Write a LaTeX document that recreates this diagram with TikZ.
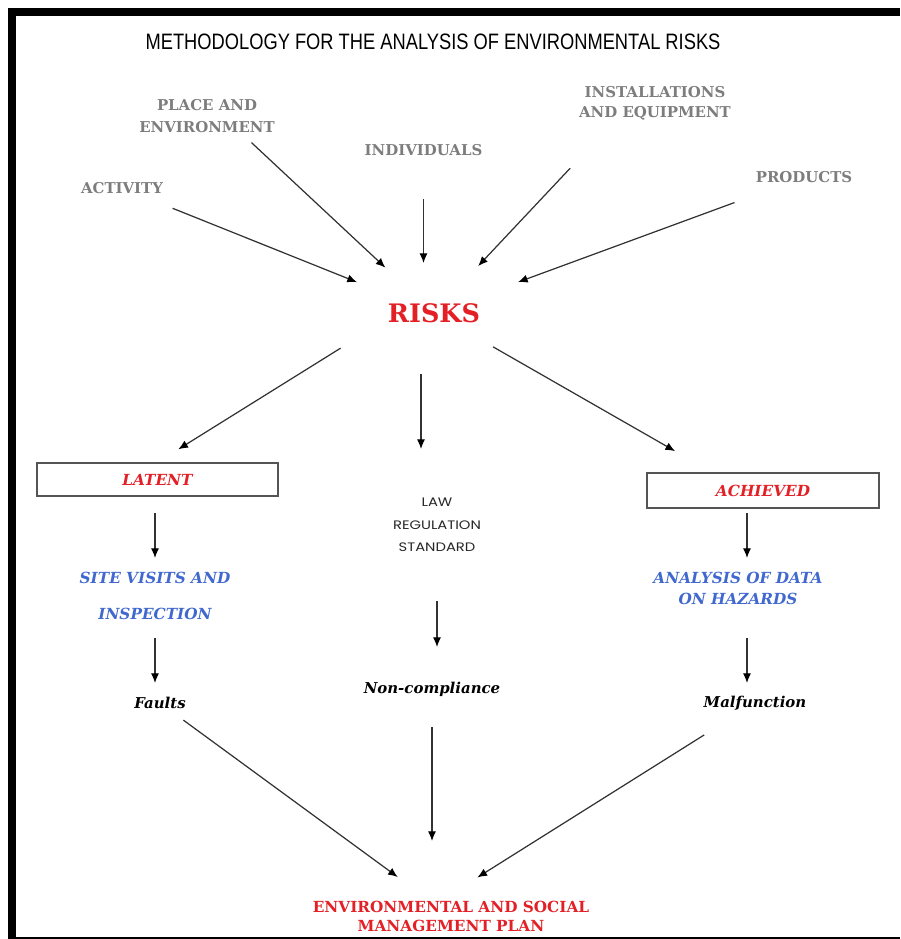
\documentclass[tikz,border=0pt]{standalone}
\usepackage{fontspec}
\setmainfont{DejaVu Serif}
\newfontfamily\arialfont{Liberation Sans}
\newfontfamily\gotfont[FakeStretch=1.2]{Poppins}
\usepackage{graphicx}
\usepackage{xcolor}
\definecolor{rojos}{RGB}{226, 32, 38}
\definecolor{azules}{RGB}{64, 104, 206}
\definecolor{grises}{RGB}{125, 125, 125}
\definecolor{flechas}{RGB}{50, 50, 50}
\definecolor{bordes}{RGB}{85, 85, 85}
\usetikzlibrary{arrows.meta}

\begin{document}
\begin{tikzpicture}[
        flecha/.style={-{Latex[length=5.5pt,width=4.6pt,color=black]}, draw=flechas, line width=0.7pt},
        entrada/.style={align=center, text=grises, font=\fontsize{8.5}{12.5}\selectfont\bfseries},
        caja/.style={draw=bordes, line width=0.85pt, text=rojos, font=\fontsize{8.7}{10}\selectfont\bfseries\itshape},
        metodo/.style={align=center, text=azules, font=\fontsize{8.7}{11.9}\selectfont\bfseries\itshape},
        fallo/.style={font=\fontsize{8.5}{10}\selectfont\bfseries\itshape}
    ]
        \useasboundingbox (0,0) rectangle (18,-18.78);
        \fill[black] (0.16,-0.16) rectangle (18,-0.32);
        \fill[black] (0.16,-0.16) rectangle (0.32,-18.78);
        \fill[black] (0.32,-18.74) rectangle (18,-18.78);
        \node[font=\arialfont\fontsize{12.7}{15}\selectfont] (titulo) at (8.66,-0.84) {\scalebox{0.82}[1]{METHODOLOGY FOR THE ANALYSIS OF ENVIRONMENTAL RISKS}};
        \node[entrada] (lugar) at (4.14,-2.32) {PLACE AND\\ ENVIRONMENT};
        \node[entrada] (actividad) at (2.44,-3.76) {ACTIVITY};
        \node[entrada] (individuos) at (8.47,-3.0) {INDIVIDUALS};
        \node[entrada, font=\fontsize{8.5}{11.3}\selectfont\bfseries] (instal) at (13.1,-2.06) {INSTALLATIONS\\ AND EQUIPMENT};
        \node[entrada] (productos) at (16.08,-3.54) {PRODUCTS};
        \node[text=rojos, font=\fontsize{14.5}{17}\selectfont\bfseries] (riesgos) at (8.68,-6.26) {RISKS};
        \node[caja, minimum width=4.82cm, minimum height=0.66cm] (latente) at (3.15,-9.59) {LATENT};
        \node[caja, minimum width=4.64cm, minimum height=0.70cm] (logrado) at (15.26,-9.81) {ACHIEVED};
        \node[align=center, text=black!85, font=\gotfont\fontsize{7}{12.8}\selectfont] (ley) at (8.74,-10.5) {LAW\\ REGULATION\\ STANDARD};
        \node[metodo, font=\fontsize{8.7}{20.4}\selectfont\bfseries\itshape] (visitas) at (3.1,-11.92) {SITE VISITS AND\\ INSPECTION};
        \node[metodo] (analisis) at (14.76,-11.77) {ANALYSIS OF DATA\\ ON HAZARDS};
        \node[fallo] (faltas) at (3.2,-14.06) {Faults};
        \node[fallo] (incumple) at (8.64,-13.78) {Non-compliance};
        \node[fallo] (averia) at (15.1,-14.06) {Malfunction};
        \node[align=center, text=rojos, font=\fontsize{8.7}{10.8}\selectfont\bfseries] (plan) at (9.02,-18.32) {ENVIRONMENTAL AND SOCIAL\\ MANAGEMENT PLAN};
        \draw[flecha, shorten <=1.09cm, shorten >=1.66cm] (actividad.center) -- (riesgos.center);
        \draw[flecha, shorten <=0.78cm, shorten >=1.33cm] ([xshift=0.32cm]lugar.center) -- (riesgos.center);
        \draw[flecha, shorten <=0.98cm, shorten >=1.0cm] (individuos.center) -- (individuos.center |- riesgos.center);
        \draw[flecha, shorten <=1.79cm, shorten >=1.29cm] ([xshift=-0.47cm]instal.center) -- (riesgos.center);
        \draw[flecha, shorten <=1.48cm, shorten >=1.79cm] (productos.center) -- (riesgos.center);
        \draw[flecha, shorten <=1.33cm, shorten >=0.49cm] ([xshift=-0.74cm]riesgos.center) -- (latente.north);
        \draw[flecha, shorten <=1.22cm, shorten >=1.52cm] ([xshift=-0.26cm]riesgos.center) -- ([xshift=-0.26cm]riesgos.center |- ley.center);
        \draw[flecha, shorten <=1.36cm, shorten >=0.85cm] (riesgos.center) -- ([xshift=-1.02cm]logrado.north);
        \draw[flecha, shorten <=0.67cm, shorten >=0.76cm] (visitas.center |- latente.center) -- (visitas.center);
        \draw[flecha, shorten <=0.84cm, shorten >=0.40cm] (visitas.center) -- (visitas.center |- faltas.center);
        \draw[flecha, shorten <=1.52cm, shorten >=0.84cm] (ley.center) -- (ley.center |- incumple.center);
        \draw[flecha, shorten <=0.45cm, shorten >=0.61cm] ([xshift=0.18cm]analisis.center |- logrado.center) -- ([xshift=0.18cm]analisis.center);
        \draw[flecha, shorten <=0.99cm, shorten >=0.40cm] ([xshift=0.18cm]analisis.center) -- ([xshift=0.18cm]analisis.center |- averia.center);
        \draw[flecha, shorten <=0.58cm, shorten >=1.32cm] (faltas.center) -- (plan.center);
        \draw[flecha, shorten <=0.76cm, shorten >=1.5cm] (incumple.center) -- (incumple.center |- plan.center);
        \draw[flecha, shorten <=1.2cm, shorten >=1.45cm] (averia.center) -- ([xshift=-0.7cm]plan.center);
    \end{tikzpicture}
\end{document}
